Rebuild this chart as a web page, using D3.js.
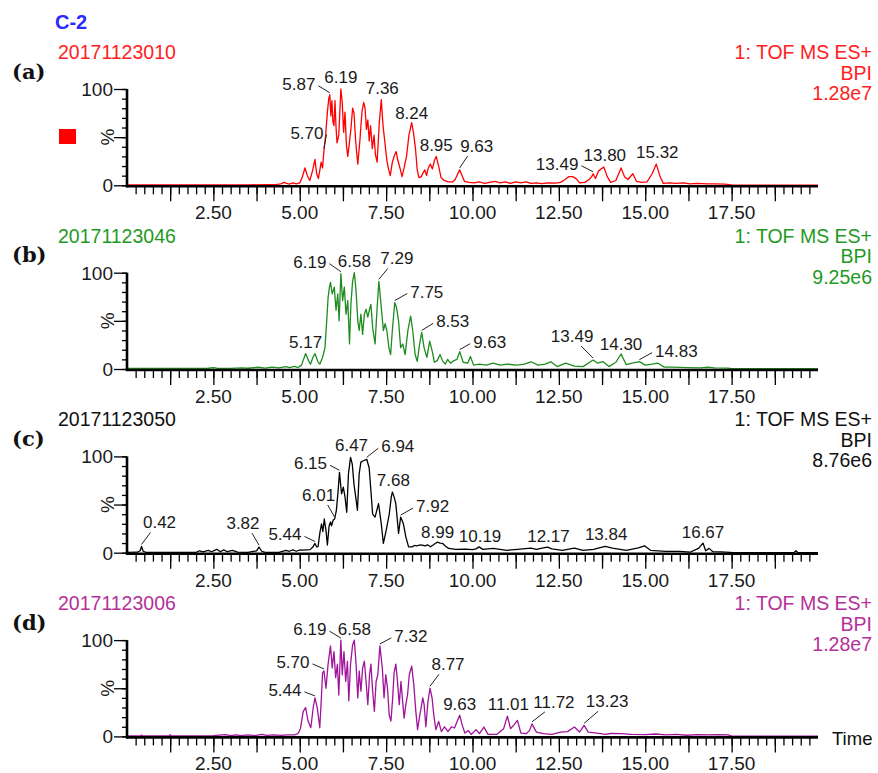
<!DOCTYPE html>
<html>
<head>
<meta charset="utf-8">
<script src="https://cdn.jsdelivr.net/npm/d3@7"></script>
<style>
  body { margin: 0; background: #fff; }
  svg { display: block; }
  text { font-family: "Liberation Sans", Arial, sans-serif; }
</style>
</head>
<body>
<div id="chart"></div>
<script>
// ---- data (time in min, intensity in %) ----
const sampleNames = ['20171123010', '20171123046', '20171123050', '20171123006'];
const panelTags = ['(a)', '(b)', '(c)', '(d)'];
const scanInfo = ['1: TOF MS ES+', 'BPI'];
const maxIntensity = ['1.28e7', '9.25e6', '8.76e6', '1.28e7'];
const xTickLabels = ['2.50', '5.00', '7.50', '10.00', '12.50', '15.00', '17.50'];
const yTickLabels = ['0', '%', '100'];

const traceA = [[0,0.4],[0.5,0.5],[1,0.4],[1.5,0.5],[2,0.4],[2.5,0.5],[3,0.4],[3.5,0.5],[4,0.6],[4.3,0.8],[4.45,1.5],[4.55,3],[4.62,2],[4.7,1.2],[4.8,2.5],[4.9,1.5],[5.0,2.5],[5.07,8],[5.15,18],[5.22,10],[5.29,5],[5.37,15],[5.44,27],[5.49,12],[5.54,7],[5.62,24],[5.66,18],[5.70,36],[5.75,52],[5.80,76],[5.84,90],[5.87,94],[5.90,72],[5.93,88],[5.96,66],[5.99,62],[6.02,88],[6.05,60],[6.08,44],[6.13,52],[6.19,100],[6.23,86],[6.27,55],[6.31,76],[6.35,42],[6.39,30],[6.43,42],[6.48,58],[6.53,80],[6.57,75],[6.62,45],[6.68,22],[6.74,46],[6.80,76],[6.85,86],[6.89,80],[6.93,58],[6.97,68],[7.01,46],[7.05,62],[7.10,38],[7.15,52],[7.19,32],[7.24,24],[7.30,64],[7.36,89],[7.41,62],[7.46,46],[7.52,26],[7.57,17],[7.62,10],[7.68,24],[7.74,31],[7.79,35],[7.84,26],[7.90,18],[7.96,9],[8.02,18],[8.09,30],[8.16,52],[8.24,65],[8.29,55],[8.35,38],[8.40,16],[8.45,8],[8.52,9],[8.57,13],[8.62,16],[8.67,10],[8.72,18],[8.78,22],[8.84,17],[8.90,26],[8.95,30],[9.02,20],[9.09,8],[9.18,5],[9.30,3.5],[9.42,3.5],[9.50,6],[9.56,11],[9.63,16],[9.70,10],[9.77,4],[9.9,3],[10.05,2.5],[10.2,3.5],[10.35,2],[10.5,3],[10.65,4],[10.8,2.5],[10.95,3.5],[11.1,2],[11.25,3.5],[11.4,2.5],[11.55,3.5],[11.7,2],[11.85,2.5],[12.0,1.8],[12.2,2.5],[12.4,2.2],[12.55,3],[12.68,6],[12.78,9],[12.9,9],[13.0,7],[13.1,2.5],[13.25,3],[13.38,6],[13.45,9],[13.49,12],[13.56,7],[13.65,15],[13.80,19],[13.9,9],[14.0,3],[14.15,5],[14.3,18],[14.4,9],[14.5,6],[14.64,12],[14.75,4],[14.9,3],[15.05,3.5],[15.2,12],[15.32,22],[15.42,10],[15.52,2],[15.7,2.5],[15.9,2],[16.1,2.5],[16.3,1.5],[16.5,2],[16.8,1.5],[17.0,1.5],[17.3,1.2],[17.5,0.4],[17.6,0.2],[18,0.2],[19,0.2],[20,0.2]];

const traceB = [[0,0.5],[0.5,0.6],[1,0.5],[1.5,0.5],[2,0.6],[2.3,0.5],[2.5,1.5],[2.6,0.8],[3,0.6],[3.3,1.2],[3.5,0.8],[3.8,1.8],[4.0,1],[4.2,2],[4.4,1.2],[4.6,2.5],[4.7,1.5],[4.85,2.8],[4.95,1.5],[5.05,4],[5.17,16],[5.25,9],[5.31,5],[5.38,12],[5.44,16],[5.52,8],[5.58,5],[5.66,12],[5.73,22],[5.78,50],[5.82,74],[5.86,85],[5.89,90],[5.94,78],[6.0,85],[6.05,61],[6.10,78],[6.14,50],[6.19,99],[6.24,71],[6.29,85],[6.34,57],[6.39,71],[6.44,26],[6.48,67],[6.53,91],[6.58,100],[6.63,81],[6.68,50],[6.72,40],[6.77,57],[6.82,36],[6.87,57],[6.92,62],[6.97,54],[7.02,62],[7.06,67],[7.11,43],[7.18,26],[7.24,64],[7.29,91],[7.36,64],[7.42,40],[7.47,47],[7.52,40],[7.58,22],[7.63,15],[7.68,40],[7.75,69],[7.80,64],[7.86,50],[7.92,22],[7.98,26],[8.05,15],[8.13,40],[8.21,55],[8.27,40],[8.34,15],[8.40,8],[8.47,26],[8.53,38],[8.60,22],[8.68,12],[8.76,29],[8.83,19],[8.90,7],[8.98,8.7],[9.06,15],[9.13,8.7],[9.21,5],[9.28,10],[9.36,6],[9.46,8.7],[9.55,10],[9.63,18],[9.73,7],[9.86,6],[9.94,13],[10.03,4],[10.2,5],[10.4,4],[10.6,6],[10.8,4],[11.0,5],[11.3,4],[11.5,5],[11.69,7.5],[11.9,4],[12.1,5],[12.27,7.5],[12.45,2.5],[12.7,6],[12.95,3],[13.2,2.5],[13.49,9.3],[13.62,6],[13.78,7.6],[13.95,2.5],[14.15,7],[14.30,15.6],[14.45,4.5],[14.62,6],[14.83,7.6],[15.0,4],[15.2,5],[15.37,6],[15.55,2],[15.8,2],[16.2,1.5],[16.6,1.2],[16.8,1.8],[17.0,1.2],[17.4,1.0],[17.5,0.4],[18,0.3],[19,0.3],[20,0.3]];

const traceC = [[0,0.3],[0.3,0.5],[0.38,2],[0.42,6.5],[0.47,1.5],[0.55,0.3],[1,0.3],[1.5,0.3],[2,0.4],[2.1,2],[2.2,0.8],[2.35,2.5],[2.45,1],[2.6,3.5],[2.7,1],[2.8,3],[2.9,1],[3.05,2.5],[3.2,0.5],[3.5,0.4],[3.75,2],[3.82,5.8],[3.9,1.5],[4.0,0.3],[4.4,0.4],[4.6,2.5],[4.7,1.5],[4.8,3],[4.9,1.5],[5.0,2.8],[5.1,2.6],[5.2,3],[5.3,3.2],[5.38,6],[5.44,9.6],[5.49,6],[5.53,6.2],[5.58,20],[5.63,30],[5.67,22],[5.71,35],[5.76,23],[5.80,8],[5.85,28],[5.89,32],[5.92,28],[5.97,34],[6.01,35],[6.06,44],[6.11,64],[6.15,83.5],[6.21,61],[6.26,68],[6.31,58],[6.36,42],[6.41,82],[6.47,99],[6.52,92],[6.57,71],[6.62,58],[6.67,44],[6.72,82],[6.77,94],[6.84,95.5],[6.94,97],[7.01,88],[7.06,64],[7.11,40],[7.18,37],[7.28,51],[7.36,30],[7.42,9.6],[7.50,23],[7.59,40],[7.65,58],[7.68,63],[7.73,58],[7.78,51],[7.86,20],[7.92,37],[8.00,30],[8.07,16.5],[8.15,6],[8.25,6],[8.32,7.5],[8.39,7],[8.47,8],[8.54,7.9],[8.63,7],[8.70,8.2],[8.78,6.2],[8.86,8],[8.92,9.6],[8.99,11],[9.06,10],[9.14,9.6],[9.21,7],[9.31,4.4],[9.51,3.4],[9.8,3.8],[10.0,3.2],[10.1,4],[10.19,6],[10.3,3.5],[10.6,4.5],[11.0,2.5],[11.3,3.5],[11.69,4.8],[11.85,3.5],[12.05,5],[12.17,5.8],[12.3,4],[12.6,2.5],[12.95,4.8],[13.2,2.5],[13.5,3.5],[13.84,6.5],[14.05,4.8],[14.45,2.5],[14.8,5],[14.98,7.2],[15.15,2.5],[15.6,1.4],[16.0,1.4],[16.3,0.5],[16.55,4.8],[16.67,10],[16.75,2],[16.85,4.5],[16.95,1.2],[17.2,0.8],[17.45,0.4],[17.55,0],[18,0],[19.3,0],[19.36,2],[19.42,0],[20,0]];

const traceD = [[0,0.5],[0.4,0.6],[0.42,1.5],[0.45,0.5],[1,0.5],[1.22,0.6],[1.25,1.8],[1.28,0.6],[2,0.6],[2.5,0.7],[2.85,1.8],[3.0,0.8],[3.15,1.5],[3.3,0.8],[3.5,1.5],[3.7,0.9],[3.9,2],[4.05,1],[4.25,1.6],[4.45,1],[4.65,1.5],[4.85,1.5],[4.95,3],[5.02,8],[5.10,26],[5.17,30],[5.24,16],[5.32,9],[5.39,30],[5.44,40],[5.51,29],[5.58,9],[5.63,43],[5.66,66],[5.70,68],[5.76,50],[5.82,75],[5.89,94],[5.94,71],[5.99,88],[6.04,61],[6.09,75],[6.13,43],[6.19,100],[6.23,64],[6.28,88],[6.33,57],[6.38,78],[6.42,37],[6.47,75],[6.53,95],[6.58,100],[6.63,75],[6.68,40],[6.72,68],[6.77,47],[6.82,71],[6.87,78],[6.92,57],[6.97,33],[7.02,64],[7.06,75],[7.11,47],[7.16,26],[7.21,57],[7.26,64],[7.32,94],[7.39,71],[7.44,40],[7.49,64],[7.54,50],[7.59,22],[7.64,16],[7.69,40],[7.73,66],[7.78,75],[7.83,57],[7.88,33],[7.93,57],[7.97,40],[8.02,19],[8.07,33],[8.12,43],[8.17,64],[8.24,73],[8.30,54],[8.36,26],[8.41,7],[8.46,19],[8.51,29],[8.56,40],[8.60,33],[8.65,10],[8.71,36],[8.77,50],[8.83,40],[8.88,22],[8.94,7],[9.02,15.6],[9.10,5],[9.19,10],[9.29,5],[9.39,10],[9.48,8.7],[9.56,16],[9.63,22],[9.70,12],[9.78,3.5],[9.88,6],[9.96,2],[10.1,7],[10.2,3],[10.33,9.7],[10.45,2.1],[10.7,2.1],[10.9,8],[11.01,21],[11.1,8],[11.2,12],[11.3,16.7],[11.4,3.5],[11.55,2.8],[11.65,6],[11.72,13],[11.85,4.5],[12.05,2.8],[12.3,2.1],[12.55,4.5],[12.75,5],[12.95,9.7],[13.1,4.5],[13.23,11.5],[13.35,4.5],[13.6,3.5],[13.85,2.1],[14.0,3],[14.3,2.8],[14.6,2],[15.0,1.8],[15.3,2.5],[15.6,1.5],[15.9,2],[16.2,1.2],[16.5,1.8],[16.8,1.5],[17.1,1.8],[17.4,1.5],[17.5,0.3],[18,0.3],[19,0.3],[20,0.3]];

// labelled peak retention times
const peaksA = ['5.70', '5.87', '6.19', '7.36', '8.24', '8.95', '9.63', '13.49', '13.80', '15.32'];
const peaksB = ['5.17', '6.19', '6.58', '7.29', '7.75', '8.53', '9.63', '13.49', '14.30', '14.83'];
const peaksC = ['0.42', '3.82', '5.44', '6.01', '6.15', '6.47', '6.94', '7.68', '7.92', '8.99', '10.19', '12.17', '13.84', '16.67'];
const peaksD = ['5.44', '5.70', '6.19', '6.58', '7.32', '8.77', '9.63', '11.01', '11.72', '13.23'];

// ---- layout: where each peak label sits relative to its peak [dx, dy] ----
const offsA = [[-17,-12],[-31,-5],[0,-6],[1,-6],[0,-4],[0,-5],[17,-18],[-36,-4],[1,-6],[1,-6]];
const offsB = [[0,-6],[-31,-6],[0,-6],[18,-17],[32,-5],[31,-5],[30,-4],[-21,-18],[0,-4],[37,-5]];
const offsC = [[18,-18],[-16,-18],[-30,-3],[-16,-18],[-29,-3],[1,-6],[31,-7],[1,-6],[32,-5],[0,-4],[1,-5],[1,-5],[1,-6],[0,-5]];
const offsD = [[-30,-2],[-31,-3],[-31,-5],[0,-5],[31,-4],[18,-18],[0,-5],[1,-6],[22,-16],[23,-18]];

const traces = [traceA, traceB, traceC, traceD];
const peaks = [peaksA, peaksB, peaksC, peaksD];
const offsets = [offsA, offsB, offsC, offsD];
const traceColors = ['#ff0000', '#1e8c1e', '#000000', '#a0149b'];
const textColors = ['#ff2020', '#1f9a1f', '#111111', '#b4309a'];

const svg = d3.select('#chart').append('svg')
  .attr('width', 878)
  .attr('height', 773);

const x = d3.scaleLinear().domain([0, 20]).range([127, 818]);

svg.append('text')
  .attr('x', 55).attr('y', 29)
  .attr('fill', '#2a2aff')
  .style('font-size', '20px').style('font-weight', 'bold')
  .text('C-2');

traces.forEach(function(trace, i) {
  const top = 89 + i * 183.7;
  const y = d3.scaleLinear().domain([0, 100]).range([top + 96.3, top]);
  const y0 = y(0);
  const g = svg.append('g');

  // titles
  g.append('text').attr('x', 58).attr('y', top - 30)
    .attr('fill', textColors[i]).style('font-size', '19.5px')
    .text(sampleNames[i]);
  g.append('text').attr('x', 12).attr('y', top - 10.5)
    .style('font-family', '"DejaVu Serif", serif')
    .style('font-size', '21px').style('font-weight', 'bold')
    .attr('fill', '#111')
    .text(panelTags[i]);
  const right = scanInfo.concat([maxIntensity[i]]);
  g.selectAll('.info').data(right).enter().append('text')
    .attr('x', 872)
    .attr('y', function(d, k) { return top - 30 + k * 20.5; })
    .attr('text-anchor', 'end')
    .attr('fill', textColors[i]).style('font-size', '19.5px')
    .text(function(d) { return d; });

  // trace
  const line = d3.line()
    .x(function(d) { return x(d[0]); })
    .y(function(d) { return y(d[1]); });
  g.append('path').datum(trace)
    .attr('d', line)
    .attr('fill', 'none')
    .attr('stroke', traceColors[i])
    .attr('stroke-width', 1.3)
    .attr('stroke-linejoin', 'round');

  // x axis: minor every 0.25, major every 1.25
  const minor = d3.axisBottom(x).tickValues(d3.range(0.25, 20, 0.25))
    .tickSize(8).tickFormat('');
  const major = d3.axisBottom(x).tickValues(d3.range(1.25, 20, 1.25))
    .tickSize(15).tickFormat('');
  [minor, major].forEach(function(ax) {
    const a = g.append('g').attr('transform', 'translate(0,' + (y0 + 1) + ')').call(ax);
    a.select('.domain').remove();
    a.selectAll('line').attr('stroke', '#000').attr('stroke-width', 1.3);
  });
  g.selectAll('.xlab').data(xTickLabels).enter().append('text')
    .attr('x', function(d) { return x(+d); })
    .attr('y', y0 + 34)
    .attr('text-anchor', 'middle')
    .attr('fill', '#1a1a1a').style('font-size', '19px')
    .text(function(d) { return d; });
  g.append('line')
    .attr('x1', 126).attr('x2', 818)
    .attr('y1', y0 + 1).attr('y2', y0 + 1)
    .attr('stroke', '#000').attr('stroke-width', 2.6);

  // y axis
  const yMinor = d3.axisLeft(y).tickValues(d3.range(0, 101, 10)).tickSize(5).tickFormat('');
  const yMajor = d3.axisLeft(y).tickValues([0, 50, 100]).tickSize(13).tickFormat('');
  [yMinor, yMajor].forEach(function(ax) {
    const a = g.append('g').attr('transform', 'translate(127,0)').call(ax);
    a.select('.domain').remove();
    a.selectAll('line').attr('stroke', '#000').attr('stroke-width', 1.3);
  });
  g.append('line')
    .attr('x1', 127).attr('x2', 127)
    .attr('y1', y(100)).attr('y2', y0 + 2)
    .attr('stroke', '#000').attr('stroke-width', 2.6);
  g.append('text').attr('x', 113).attr('y', y(100) + 6.8)
    .attr('text-anchor', 'end').attr('fill', '#1a1a1a').style('font-size', '19px')
    .text(yTickLabels[2]);
  g.append('text').attr('x', 113).attr('y', y0 + 6.8)
    .attr('text-anchor', 'end').attr('fill', '#1a1a1a').style('font-size', '19px')
    .text(yTickLabels[0]);
  g.append('text')
    .attr('transform', 'translate(114,' + y(50) + ') rotate(-90)')
    .attr('text-anchor', 'middle').attr('fill', '#1a1a1a').style('font-size', '19px')
    .text(yTickLabels[1]);

  // peak labels
  peaks[i].forEach(function(lab, k) {
    const t = +lab;
    const pt = trace.reduce(function(a, b) {
      return Math.abs(b[0] - t) < Math.abs(a[0] - t) ? b : a;
    });
    const px = x(t), py = y(pt[1]);
    const dx = offsets[i][k][0], dy = offsets[i][k][1];
    const cx = px + dx, by = py + dy;
    const txt = g.append('text')
      .attr('x', cx).attr('y', by)
      .attr('text-anchor', 'middle')
      .attr('fill', '#1a1a1a').style('font-size', '17px')
      .text(lab);
    const w = txt.node().getComputedTextLength();
    if (Math.abs(dx) < 10) return;
    const s = dx > 0 ? 1 : -1;
    let x1, y1;
    if (dy < -12) { x1 = cx - s * 9; y1 = by + 4; }
    else { x1 = cx - s * (w / 2 + 3); y1 = by - 4; }
    g.append('line')
      .attr('x1', x1).attr('y1', y1)
      .attr('x2', px).attr('y2', py - 2)
      .attr('stroke', '#222').attr('stroke-width', 1);
  });
});

// sample marker next to the first trace
svg.append('rect')
  .attr('x', 59).attr('y', 129).attr('width', 17).attr('height', 15)
  .attr('fill', '#ff0000');

svg.append('text')
  .attr('x', 832).attr('y', 89 + 3 * 183.7 + 96.3 + 8.6)
  .attr('fill', '#111').style('font-size', '18.5px')
  .text('Time');
</script>
</body>
</html>
